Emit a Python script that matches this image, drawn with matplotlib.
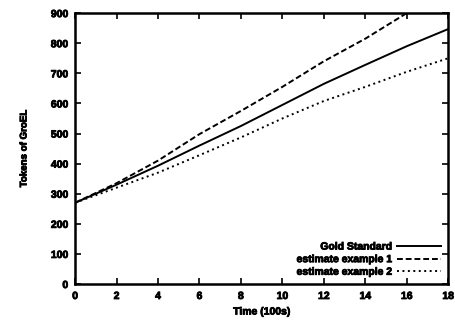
import matplotlib
matplotlib.use("Agg")
import matplotlib.pyplot as plt
import matplotlib.patheffects as pe

# Time in units of 100 s
time = [0, 2, 4, 6, 8, 10, 12, 14, 16, 18]
gold_standard = [270, 330, 393, 460, 525, 595, 665, 728, 790, 847]
estimate_1 = [270, 335, 410, 498, 575, 655, 740, 815, 900, 975]
estimate_2 = [270, 320, 370, 428, 487, 550, 608, 655, 705, 750]

x_ticks = [0, 2, 4, 6, 8, 10, 12, 14, 16, 18]
y_ticks = [0, 100, 200, 300, 400, 500, 600, 700, 800, 900]

plt.rcParams["font.family"] = ["Liberation Sans", "DejaVu Sans"]
plt.rcParams["font.weight"] = "bold"

heavy = [pe.withStroke(linewidth=0.6, foreground="black")]

fig = plt.figure(figsize=(4.55, 3.28), dpi=100)
ax = fig.add_axes([0.165, 0.134, 0.820, 0.826])

ax.plot(time, gold_standard, color="black", lw=1.4, ls="-", label="Gold Standard")
ax.plot(time, estimate_1, color="black", lw=1.4, ls=(0, (3, 1.5)), label="estimate example 1")
ax.plot(time, estimate_2, color="black", lw=1.4, ls=(0, (1, 1.8)), label="estimate example 2")

ax.set_xlim(0, 18)
ax.set_ylim(0, 900)
ax.set_xticks(x_ticks)
ax.set_yticks(y_ticks)
ax.tick_params(direction="in", length=4, width=1.2, top=True, right=True,
               labelsize=7.5, pad=5)
for lbl in ax.get_xticklabels() + ax.get_yticklabels():
    lbl.set_fontweight("bold")
    lbl.set_path_effects(heavy)
for sp in ax.spines.values():
    sp.set_linewidth(1.8)

ax.set_xlabel("Time (100s)", fontsize=7.5, fontweight="bold", labelpad=4,
              path_effects=heavy)
ax.set_ylabel("Tokens of GroEL", fontsize=7, fontweight="bold", labelpad=16,
              path_effects=heavy)

leg = ax.legend(loc="lower right", frameon=False, markerfirst=False,
                fontsize=7.5, handlelength=4.2, handletextpad=0.5,
                labelspacing=0.25, borderaxespad=0.3)
for t in leg.get_texts():
    t.set_fontweight("bold")
    t.set_path_effects(heavy)

fig.savefig("out.png", dpi=100)
